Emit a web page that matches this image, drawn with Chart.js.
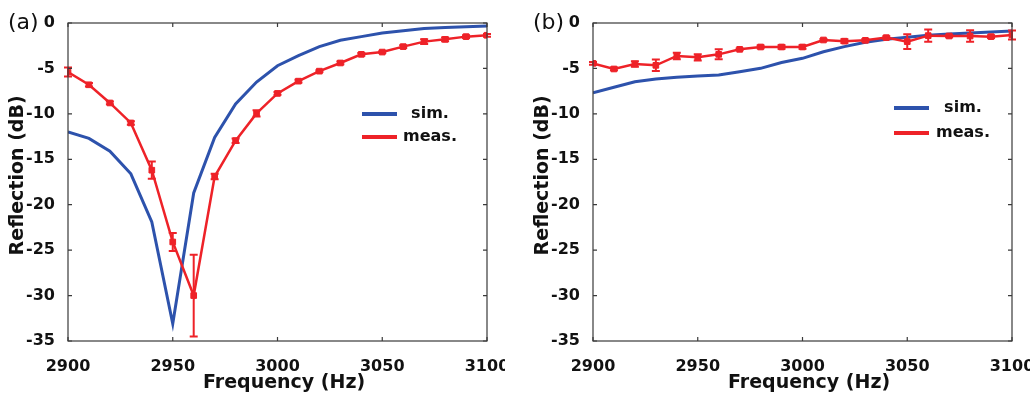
<!DOCTYPE html>
<html>
<head>
<meta charset="utf-8">
<script src="https://cdn.jsdelivr.net/npm/chart.js@4.4.0/dist/chart.umd.min.js"></script>
<style>
  html, body { margin: 0; padding: 0; background: #fff; }
  #wrap { position: relative; width: 1035px; height: 399px; }
  canvas { position: absolute; top: 0; }
  #chartA { left: 0; }
  #chartB { left: 525px; }
</style>
</head>
<body>
<div id="wrap">
  <canvas id="chartA" width="505" height="399"></canvas>
  <canvas id="chartB" width="505" height="399"></canvas>
</div>
<script>
// frequency points (Hz)
const freqs = [2900, 2910, 2920, 2930, 2940, 2950, 2960, 2970, 2980, 2990, 3000,
               3010, 3020, 3030, 3040, 3050, 3060, 3070, 3080, 3090, 3100];

// panel (a)
const simA  = [-12.0, -12.7, -14.1, -16.6, -21.9, -33.1, -18.7, -12.6, -8.9, -6.5, -4.7,
               -3.6, -2.6, -1.9, -1.5, -1.1, -0.85, -0.6, -0.5, -0.4, -0.33];
const measA = [-5.4, -6.8, -8.8, -11.0, -16.2, -24.1, -30.0, -16.9, -12.95, -9.95, -7.75,
               -6.4, -5.3, -4.4, -3.45, -3.2, -2.6, -2.05, -1.8, -1.5, -1.35];
const errA  = [0.5, 0.2, 0.15, 0.2, 0.95, 1.0, 4.5, 0.3, 0.25, 0.35, 0.15,
               0.15, 0.1, 0.15, 0.15, 0.1, 0.15, 0.25, 0.2, 0.15, 0.15];

// panel (b)
const simB  = [-7.67, -7.08, -6.46, -6.16, -5.98, -5.83, -5.72, -5.36, -4.99, -4.35, -3.89,
               -3.16, -2.6, -2.13, -1.8, -1.58, -1.36, -1.21, -1.1, -0.99, -0.88];
const measB = [-4.44, -5.06, -4.51, -4.66, -3.63, -3.78, -3.45, -2.9, -2.64, -2.64, -2.64,
               -1.87, -2.0, -1.91, -1.61, -2.05, -1.39, -1.43, -1.43, -1.5, -1.32];
const errB  = [0.15, 0.15, 0.3, 0.63, 0.35, 0.35, 0.55, 0.1, 0.15, 0.2, 0.2,
               0.1, 0.2, 0.15, 0.15, 0.8, 0.68, 0.15, 0.62, 0.15, 0.5];

const xTicks = [2900, 2950, 3000, 3050, 3100];
const yTicks = [0, -5, -10, -15, -20, -25, -30, -35];

const BLUE = '#2d52ac';
const RED = '#ee2228';
const FONT = '"DejaVu Sans", sans-serif';

// frame, inward ticks, error bars, legend and panel label
const decor = {
    id: 'decor',
    afterDatasetsDraw(chart, args, opts) {
        const ctx = chart.ctx, xs = chart.scales.x, ys = chart.scales.y;
        ctx.save();
        ctx.strokeStyle = RED;
        ctx.lineWidth = 2;
        opts.errors.forEach((e, i) => {
            const px = xs.getPixelForValue(freqs[i]);
            const top = ys.getPixelForValue(opts.meas[i] + e);
            const bot = ys.getPixelForValue(opts.meas[i] - e);
            ctx.beginPath();
            ctx.moveTo(px, top); ctx.lineTo(px, bot);
            ctx.moveTo(px - 4, top); ctx.lineTo(px + 4, top);
            ctx.moveTo(px - 4, bot); ctx.lineTo(px + 4, bot);
            ctx.stroke();
        });
        ctx.restore();
    },
    afterDraw(chart, args, opts) {
        const ctx = chart.ctx, a = chart.chartArea;
        const xs = chart.scales.x, ys = chart.scales.y;
        ctx.save();
        // box
        ctx.strokeStyle = '#3a3a3a';
        ctx.lineWidth = 1.2;
        ctx.strokeRect(a.left, a.top, a.right - a.left, a.bottom - a.top);
        ctx.beginPath();
        xTicks.forEach(v => {
            const px = xs.getPixelForValue(v);
            ctx.moveTo(px, a.bottom); ctx.lineTo(px, a.bottom - 4);
            ctx.moveTo(px, a.top); ctx.lineTo(px, a.top + 4);
        });
        yTicks.forEach(v => {
            const py = ys.getPixelForValue(v);
            ctx.moveTo(a.left, py); ctx.lineTo(a.left + 4, py);
            ctx.moveTo(a.right, py); ctx.lineTo(a.right - 4, py);
        });
        ctx.stroke();

        // legend
        const lg = opts.legend;
        const lx = a.left + lg.x, ly = a.top + lg.y;
        ctx.lineWidth = 4;
        ctx.strokeStyle = BLUE;
        ctx.beginPath(); ctx.moveTo(lx, ly); ctx.lineTo(lx + 35, ly); ctx.stroke();
        ctx.strokeStyle = RED;
        ctx.beginPath(); ctx.moveTo(lx, ly + lg.gap); ctx.lineTo(lx + 35, ly + lg.gap); ctx.stroke();
        ctx.fillStyle = '#111';
        ctx.font = 'bold 16px ' + FONT;
        ctx.textAlign = 'center';
        ctx.textBaseline = 'middle';
        ctx.fillText('sim.', lx + lg.text, ly);
        ctx.fillText('meas.', lx + lg.text, ly + lg.gap);

        // panel label
        ctx.font = '22px ' + FONT;
        ctx.textAlign = 'left';
        ctx.fillText(opts.label, a.left - 60, a.top);
        ctx.restore();
    }
};

function makeChart(canvasId, label, sim, meas, errs, legend) {
    const tickFont = { family: FONT, size: 16, weight: 'bold' };
    const titleFont = { family: FONT, size: 19, weight: 'bold' };
    return new Chart(document.getElementById(canvasId), {
        type: 'line',
        data: {
            datasets: [
                {
                    label: 'meas.',
                    data: freqs.map((f, i) => ({ x: f, y: meas[i] })),
                    borderColor: RED,
                    backgroundColor: RED,
                    borderWidth: 2.5,
                    pointStyle: 'rect',
                    pointRadius: 4,
                    pointBorderWidth: 1,
                    tension: 0
                },
                {
                    label: 'sim.',
                    data: freqs.map((f, i) => ({ x: f, y: sim[i] })),
                    borderColor: BLUE,
                    borderWidth: 3,
                    pointRadius: 0,
                    tension: 0
                }
            ]
        },
        options: {
            responsive: false,
            animation: false,
            layout: { padding: { left: 0, top: 23, right: 18, bottom: 0 } },
            plugins: {
                legend: { display: false },
                tooltip: { enabled: false },
                decor: { label: label, meas: meas, errors: errs, legend: legend }
            },
            scales: {
                x: {
                    type: 'linear',
                    min: 2900,
                    max: 3100,
                    grid: { display: false },
                    border: { display: false },
                    ticks: {
                        stepSize: 50,
                        padding: 8,
                        maxRotation: 0,
                        color: '#111',
                        font: tickFont,
                        callback: v => String(v)
                    },
                    title: {
                        display: true,
                        text: '  Frequency (Hz)',
                        color: '#111',
                        font: titleFont,
                        padding: { top: 0, bottom: 5 }
                    },
                    afterFit(s) { s.height = 58; s.paddingLeft = 0; s.paddingRight = 0; }
                },
                y: {
                    min: -35,
                    max: 0,
                    grid: { display: false },
                    border: { display: false },
                    ticks: {
                        stepSize: 5,
                        padding: 5,
                        color: '#111',
                        font: tickFont,
                        callback: v => String(v)
                    },
                    title: {
                        display: true,
                        text: '  Reflection (dB)',
                        color: '#111',
                        font: titleFont,
                        padding: { top: 7, bottom: 0 }
                    },
                    afterFit(s) { s.width = 68; s.paddingTop = 0; s.paddingBottom = 0; }
                }
            }
        },
        plugins: [decor]
    });
}

makeChart('chartA', '(a)', simA, measA, errA, { x: 294, y: 91, gap: 23, text: 68 });
makeChart('chartB', '(b)', simB, measB, errB, { x: 301, y: 85, gap: 25, text: 69 });
</script>
</body>
</html>
